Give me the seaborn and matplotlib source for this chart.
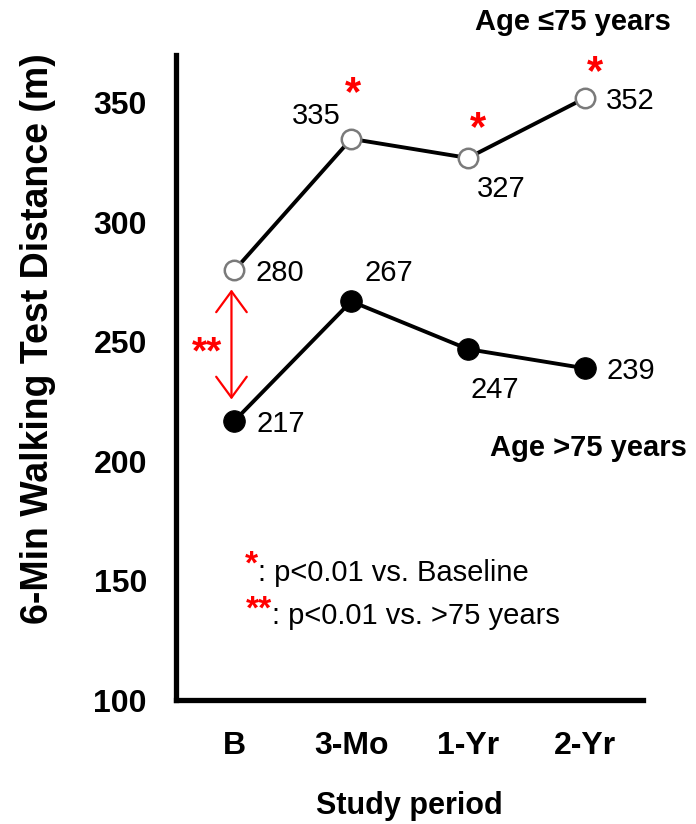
import matplotlib
matplotlib.use("Agg")
import matplotlib.pyplot as plt
import seaborn as sns
import pandas as pd
import numpy as np

periods = ["B", "3-Mo", "1-Yr", "2-Yr"]
young = [280, 335, 327, 352]   # Age <=75
old = [217, 267, 247, 239]     # Age >75
yticks = [100, 150, 200, 250, 300, 350]

sns.set_theme(style="white")
plt.rcParams['font.family'] = ['Liberation Sans', 'DejaVu Sans']
for k in ["text.color", "axes.labelcolor", "xtick.color", "ytick.color", "axes.edgecolor"]:
    plt.rcParams[k] = "black"

df = pd.DataFrame({
    "period": periods * 2,
    "dist": young + old,
    "group": ["young"] * 4 + ["old"] * 4,
})
df["x"] = np.tile(np.arange(len(periods)), 2)

fig = plt.figure(figsize=(6.96, 8.24), dpi=100)
ax = fig.add_axes([0.253, 0.150, 0.671, 0.783])

sns.lineplot(data=df[df.group == "young"], x="x", y="dist", ax=ax, color="black",
             lw=2.8, marker="o", markersize=14, markerfacecolor="white",
             markeredgecolor="#7a7a7a", markeredgewidth=1.8, legend=False)
sns.lineplot(data=df[df.group == "old"], x="x", y="dist", ax=ax, color="black",
             lw=2.8, marker="o", markersize=15.5, markerfacecolor="black",
             markeredgecolor="black", legend=False)

ax.set_xlim(-0.5, 3.5)
ax.set_ylim(100, 370)
ax.set_yticks(yticks)
ax.set_yticklabels([str(t) for t in yticks], fontsize=23, fontweight="bold")
ax.set_xticks(np.arange(-0.5, 4, 1))
ax.set_xticklabels([])
ax.set_xticks(np.arange(len(periods)), minor=True)
ax.set_xticklabels(periods, minor=True, fontsize=23, fontweight="bold")
ax.tick_params(axis="x", which="minor", length=0, pad=22)
ax.tick_params(axis="x", which="major", direction="out", length=7, width=4, color="black")
ax.tick_params(axis="y", direction="out", length=7, width=4, color="black", pad=14)
for s in ["top", "right"]:
    ax.spines[s].set_visible(False)
for s in ["left", "bottom"]:
    ax.spines[s].set_linewidth(3.8)
    ax.spines[s].set_color("black")

ax.set_xlabel("Study period", fontsize=22, fontweight="bold")
ax.set_ylabel("6-Min Walking Test Distance (m)", fontsize=27, fontweight="bold")
ax.xaxis.set_label_coords(0.5, -0.14)
ax.yaxis.set_label_coords(-0.258, 0.561)

def px2x(px):
    return (px - 234) / 117.0

def py2y(py):
    return 100 + (700 - py) / 2.39

lab_kw = dict(fontsize=21, color="black", va="center", ha="center")
label_pos_young = [(279, 273), (316, 116), (501, 189), (631, 100)]
label_pos_old = [(280, 424), (389, 273), (495, 390), (631, 371)]
for (px, py), v in zip(label_pos_young, young):
    ax.text(px2x(px), py2y(py), str(v), **lab_kw)
for (px, py), v in zip(label_pos_old, old):
    ax.text(px2x(px), py2y(py), str(v), **lab_kw)

# significance stars
for px, py in [(353, 94), (478, 129), (595, 73)]:
    ax.text(px2x(px), py2y(py), "*", color="red", fontsize=30, fontweight="bold",
            ha="center", va="center")

# double arrow
ax.annotate("", xy=(px2x(231), py2y(289)), xytext=(px2x(231), py2y(399)),
            arrowprops=dict(arrowstyle="<->,head_length=0.75,head_width=0.55",
                            mutation_scale=20, shrinkA=0, shrinkB=0,
                            color="red", lw=1.6))
ax.text(px2x(207), py2y(353), "**", color="red", fontsize=28, fontweight="bold",
        ha="center", va="center")

ax.text(px2x(573), py2y(21), "Age ≤75 years", fontsize=21, fontweight="bold",
        ha="center", va="center")
ax.text(px2x(589), py2y(448), "Age >75 years", fontsize=21, fontweight="bold",
        ha="center", va="center")

# legend notes
ax.text(px2x(251), py2y(565), "*", color="red", fontsize=24, fontweight="bold",
        ha="center", va="center")
ax.text(px2x(258), py2y(573), ": p<0.01 vs. Baseline", fontsize=21, ha="left", va="center")
ax.text(px2x(259), py2y(610), "**", color="red", fontsize=24, fontweight="bold",
        ha="center", va="center")
ax.text(px2x(272), py2y(616), ": p<0.01 vs. >75 years", fontsize=21, ha="left", va="center")

fig.savefig("out.png", dpi=100)
